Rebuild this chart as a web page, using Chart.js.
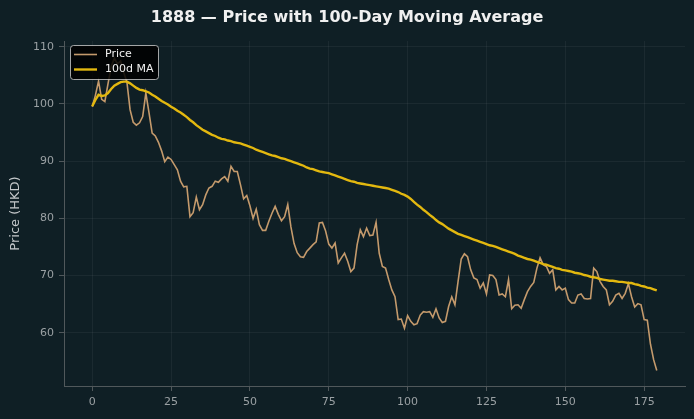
<!DOCTYPE html>
<html><head><meta charset="utf-8">
<script src="https://cdn.jsdelivr.net/npm/chart.js@4/dist/chart.umd.min.js"></script>
<style>html,body{margin:0;padding:0;background:#0f1f25;}canvas{display:block}</style>
</head><body>
<canvas id="c" width="694" height="419"></canvas>
<script>
const TITLE = "1888 — Price with 100-Day Moving Average";
const Y_LABEL = "Price (HKD)";
const SERIES_NAMES = ["Price", "100d MA"];
const xTicks = [0, 25, 50, 75, 100, 125, 150, 175];
const yTicks = [60, 70, 80, 90, 100, 110];

const price = [
 99.5,101.5,104.0,100.8,100.4,103.5,106.5,108.0,107.0,107.5,
 105.5,103.8,99.0,96.8,96.3,96.7,97.8,101.9,98.5,94.9,
 94.4,93.3,91.8,89.9,90.7,90.3,89.4,88.5,86.5,85.5,
 85.6,80.3,81.0,83.7,81.5,82.4,84.1,85.3,85.6,86.5,
 86.3,86.9,87.3,86.5,89.1,88.2,88.2,85.9,83.4,84.0,
 82.2,80.0,81.6,78.9,77.9,77.9,79.5,80.9,82.1,80.7,
 79.6,80.3,82.4,78.5,75.6,74.0,73.3,73.2,74.2,74.8,
 75.4,75.9,79.2,79.3,77.8,75.5,74.8,75.7,72.2,73.1,
 73.9,72.5,70.7,71.3,75.4,78.0,76.8,78.3,77.0,77.1,
 79.3,73.9,71.6,71.3,69.3,67.5,66.3,62.3,62.4,60.8,
 63.0,62.0,61.4,61.6,63.1,63.7,63.6,63.7,62.7,64.2,
 62.6,61.8,62.0,64.6,66.3,64.9,69.0,72.9,73.8,73.3,
 71.0,69.6,69.3,67.8,68.7,66.8,70.1,70.0,69.3,66.6,
 66.8,66.3,69.3,64.2,64.8,64.9,64.3,65.8,67.2,68.1,
 68.8,71.3,73.1,71.9,71.6,70.4,71.0,67.5,68.1,67.5,
 67.8,65.8,65.2,65.2,66.6,66.8,66.0,65.9,66.0,71.3,
 70.7,69.0,68.1,67.5,64.9,65.5,66.6,66.9,66.0,66.9,
 68.6,66.3,64.5,65.1,64.9,62.3,62.2,58.0,55.3,53.4
];

const ma100 = [
 99.6,100.7,101.6,101.4,101.5,101.9,102.6,103.2,103.5,103.8,
 103.9,103.9,103.6,103.2,102.8,102.5,102.4,102.2,102.0,101.6,
 101.3,100.9,100.5,100.2,99.9,99.5,99.2,98.8,98.5,98.1,
 97.7,97.2,96.8,96.3,95.9,95.5,95.2,94.9,94.6,94.4,
 94.1,93.9,93.8,93.6,93.5,93.3,93.2,93.1,92.9,92.7,
 92.5,92.3,92.0,91.8,91.6,91.4,91.2,91.0,90.9,90.7,
 90.5,90.4,90.2,90.0,89.8,89.6,89.4,89.2,88.9,88.7,
 88.6,88.4,88.2,88.1,88.0,87.9,87.7,87.5,87.3,87.1,
 86.9,86.7,86.5,86.4,86.2,86.1,86.0,85.9,85.8,85.7,
 85.6,85.5,85.4,85.3,85.2,85.0,84.8,84.6,84.3,84.1,
 83.8,83.4,82.9,82.4,82.0,81.5,81.1,80.6,80.2,79.7,
 79.3,79.0,78.6,78.2,77.9,77.6,77.3,77.1,76.9,76.7,
 76.5,76.3,76.1,75.9,75.7,75.5,75.3,75.2,75.0,74.8,
 74.6,74.4,74.2,74.0,73.8,73.5,73.3,73.1,72.9,72.8,
 72.6,72.4,72.2,72.0,71.9,71.7,71.5,71.3,71.2,71.0,
 70.9,70.8,70.7,70.5,70.4,70.3,70.1,70.0,69.8,69.7,
 69.6,69.4,69.3,69.2,69.1,69.1,69.0,68.9,68.9,68.8,
 68.7,68.7,68.5,68.4,68.2,68.1,67.9,67.8,67.6,67.4
];

const days = price.map((_, i) => i);

const COLORS = {
  bg: '#0f1f25', price: '#c49a6c', ma: '#e3b80f',
  tick: '#9aa0a3', spine: '#50585b', grid: 'rgba(255,255,255,0.05)',
  title: '#f0f0f0', ylabel: '#c4c8ca'
};
const FONT = "'DejaVu Sans', sans-serif";

const decor = {
  id: 'decor',
  beforeDraw(chart) {
    const ctx = chart.ctx;
    ctx.save();
    ctx.fillStyle = COLORS.bg;
    ctx.fillRect(0, 0, chart.width, chart.height);
    ctx.restore();
  },
  afterDraw(chart) {
    const ctx = chart.ctx;
    const a = chart.chartArea;
    ctx.save();
    // title
    ctx.fillStyle = COLORS.title;
    ctx.font = "bold 16px " + FONT;
    ctx.textAlign = 'center';
    ctx.textBaseline = 'middle';
    ctx.fillText(TITLE, chart.width / 2, 18);
    // y label
    ctx.save();
    ctx.translate(16, (a.top + a.bottom) / 2);
    ctx.rotate(-Math.PI / 2);
    ctx.fillStyle = COLORS.ylabel;
    ctx.font = "13px " + FONT;
    ctx.fillText(Y_LABEL, 0, 0);
    ctx.restore();
    // legend
    const lx = a.left + 6, ly = a.top + 4, lw = 88, lh = 34;
    ctx.beginPath();
    ctx.roundRect(lx + 0.5, ly + 0.5, lw, lh, 3);
    ctx.fillStyle = 'rgba(0,0,0,0.85)';
    ctx.fill();
    ctx.strokeStyle = 'rgba(204,204,204,0.8)';
    ctx.lineWidth = 1;
    ctx.stroke();
    const items = [[SERIES_NAMES[0], COLORS.price, 1.6], [SERIES_NAMES[1], COLORS.ma, 2.4]];
    ctx.font = "11px " + FONT;
    ctx.textAlign = 'left';
    items.forEach((it, k) => {
      const yy = ly + 9.5 + k * 15;
      ctx.beginPath();
      ctx.moveTo(lx + 4, yy);
      ctx.lineTo(lx + 27, yy);
      ctx.strokeStyle = it[1];
      ctx.lineWidth = it[2];
      ctx.stroke();
      ctx.fillStyle = '#f0f0f0';
      ctx.fillText(it[0], lx + 35, yy);
    });
    ctx.restore();
  }
};

new Chart(document.getElementById('c'), {
  type: 'line',
  data: {
    datasets: [
      { label: SERIES_NAMES[0], data: days.map((d, i) => ({x: d, y: price[i]})),
        borderColor: COLORS.price, borderWidth: 1.6, pointRadius: 0, tension: 0, order: 1 },
      { label: SERIES_NAMES[1], data: days.map((d, i) => ({x: d, y: ma100[i]})),
        borderColor: COLORS.ma, borderWidth: 2.4, pointRadius: 0, tension: 0, order: 0 }
    ]
  },
  options: {
    responsive: false, animation: false, devicePixelRatio: 1,
    layout: { padding: { top: 41, right: 9, left: 0, bottom: 0 } },
    plugins: { legend: { display: false }, title: { display: false }, tooltip: { enabled: false } },
    scales: {
      x: {
        type: 'linear', min: -8.95, max: 187.95,
        afterBuildTicks: s => { s.ticks = xTicks.map(v => ({value: v})); },
        afterFit: s => { s.height = 33; },
        ticks: { color: COLORS.tick, font: { family: FONT, size: 11 }, padding: 5, maxRotation: 0 },
        grid: { color: COLORS.grid, tickColor: COLORS.spine, tickLength: 5, drawTicks: true },
        border: { color: COLORS.spine, width: 1 }
      },
      y: {
        type: 'linear', min: 50.7, max: 111.0,
        afterBuildTicks: s => { s.ticks = yTicks.map(v => ({value: v})); },
        afterFit: s => { s.width = 64; },
        ticks: { color: COLORS.tick, font: { family: FONT, size: 11 }, padding: 5 },
        grid: { color: COLORS.grid, tickColor: COLORS.spine, tickLength: 5, drawTicks: true },
        border: { color: COLORS.spine, width: 1 }
      }
    }
  },
  plugins: [decor]
});
</script>
</body></html>
